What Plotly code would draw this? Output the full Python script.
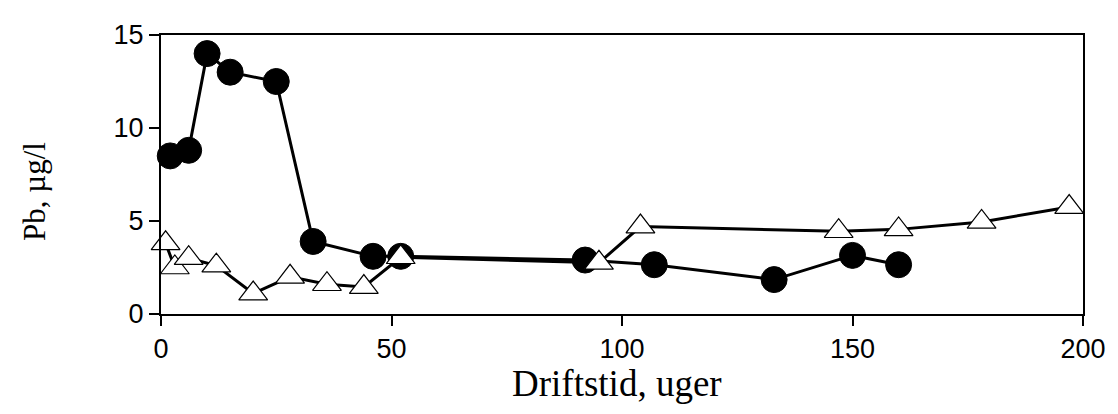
import plotly.graph_objects as go

# Series with filled circles
circle_x = [2, 6, 10, 15, 25, 33, 46, 52, 92, 107, 133, 150, 160]
circle_y = [8.5, 8.8, 14.0, 13.0, 12.5, 3.9, 3.1, 3.1, 2.9, 2.65, 1.85, 3.15, 2.65]

# Series with open triangles
tri_x = [1, 3, 6, 12, 20, 28, 36, 44, 52, 95, 104, 147, 160, 178, 197]
tri_y = [3.8, 2.5, 3.0, 2.6, 1.1, 2.0, 1.6, 1.45, 3.05, 2.75, 4.7, 4.45, 4.55, 4.95, 5.75]

x_ticks = [0, 50, 100, 150, 200]
y_ticks = [0, 5, 10, 15]

x_title = "Driftstid, uger"
y_title = "Pb, µg/l"

fig = go.Figure()
fig.add_trace(go.Scatter(
    x=circle_x, y=circle_y, mode="lines+markers",
    line=dict(color="black", width=3),
    marker=dict(symbol="circle", size=26, color="black", line=dict(color="black", width=1)),
    showlegend=False, cliponaxis=False,
))
fig.add_trace(go.Scatter(
    x=tri_x, y=tri_y, mode="lines+markers",
    line=dict(color="black", width=3),
    marker=dict(symbol="triangle-up", size=25, color="white", line=dict(color="black", width=1.2)),
    showlegend=False, cliponaxis=False,
))

axis_common = dict(
    showgrid=False, zeroline=False, showline=True, linecolor="black", linewidth=2,
    ticks="outside", ticklen=10, tickwidth=2, tickcolor="black", mirror=True,
    tickfont=dict(family="Liberation Sans, Arial, sans-serif", size=27, color="black"),
)

fig.update_xaxes(range=[0, 200], tickvals=x_ticks, ticktext=[str(v) for v in x_ticks], **axis_common)
fig.update_yaxes(range=[0, 15], tickvals=y_ticks, ticktext=[str(v) for v in y_ticks], **axis_common)

fig.add_annotation(text=x_title, xref="paper", yref="paper", x=0.495, y=-0.25,
                   xanchor="center", yanchor="middle", showarrow=False,
                   font=dict(family="Liberation Serif, Times New Roman, serif", size=37, color="black"))
fig.add_annotation(text=y_title, xref="paper", yref="paper", x=-0.137, y=0.44,
                   xanchor="center", yanchor="middle", showarrow=False, textangle=-90,
                   font=dict(family="Liberation Serif, Times New Roman, serif", size=31, color="black"))

fig.update_layout(
    width=1118, height=414,
    margin=dict(l=153, r=43, t=21, b=108),
    plot_bgcolor="white", paper_bgcolor="white",
)

fig.write_html("out.html")
